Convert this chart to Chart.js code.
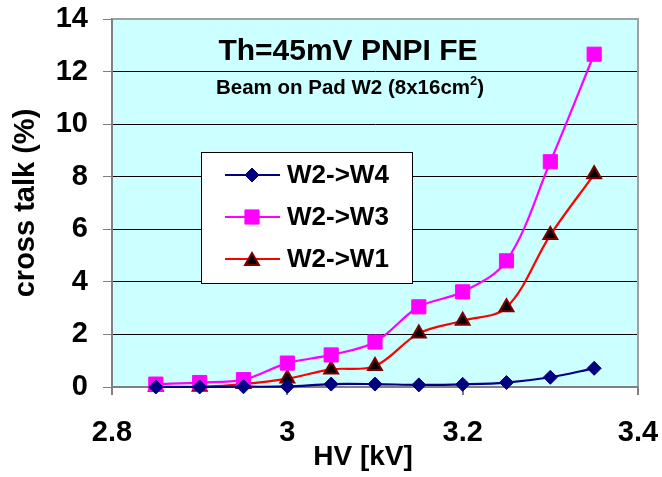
<!DOCTYPE html>
<html>
<head>
<meta charset="utf-8">
<title>Cross talk vs HV</title>
<script src="https://cdn.jsdelivr.net/npm/chart.js@4/dist/chart.umd.min.js"></script>
<style>
  html, body { margin: 0; padding: 0; background: #ffffff; }
  #wrap { width: 662px; height: 477px; }
</style>
</head>
<body>
<div id="wrap"><canvas id="c" width="662" height="477"></canvas></div>
<script>
// HV settings (kV)
const hvValues = [2.85, 2.9, 2.95, 3.0, 3.05, 3.1, 3.15, 3.2, 3.25, 3.3, 3.35];

// cross talk (%) for each neighbouring pad
const crossW4 = [0.0, 0.0, 0.01, 0.02, 0.11, 0.11, 0.08, 0.1, 0.17, 0.37, 0.71];
const crossW3 = [0.11, 0.17, 0.28, 0.91, 1.22, 1.71, 3.05, 3.62, 4.8, 8.57, 12.66];
const crossW1 = [0.01, 0.01, 0.11, 0.32, 0.67, 0.8, 2.04, 2.52, 3.03, 5.78, 8.09];

const seriesNames = ['W2->W4', 'W2->W3', 'W2->W1'];
const xTickLabels = ['2.8', '3', '3.2', '3.4'];
const yTickLabels = ['0', '2', '4', '6', '8', '10', '12', '14'];

const titleText = 'Th=45mV PNPI FE';
const subtitleText = 'Beam on Pad W2 (8x16cm';
const subtitleSup = '2';
const xTitle = 'HV [kV]';
const yTitle = 'cross talk (%)';

const FONT = '"Liberation Sans", Arial, Helvetica, sans-serif';

function toPoints(ys) {
  return hvValues.map((x, i) => ({ x: x, y: ys[i] }));
}

// fixed axis box sizes; the outer layout padding alone sets the plot edges
function fixBox(size) {
  return function (s) {
    if (s.isHorizontal()) s.height = size; else s.width = size;
    s.paddingTop = 0;
    s.paddingBottom = 0;
    s.paddingLeft = 0;
    s.paddingRight = 0;
  };
}

// cyan plot background and grey frame
const plotFrame = {
  id: 'plotFrame',
  beforeDraw(chart) {
    const { ctx, chartArea: a } = chart;
    ctx.save();
    ctx.fillStyle = '#ffffff';
    ctx.fillRect(0, 0, chart.width, chart.height);
    ctx.fillStyle = '#ccffff';
    ctx.fillRect(a.left, a.top, a.right - a.left, a.bottom - a.top);
    ctx.restore();
  },
  beforeDatasetsDraw(chart) {
    const { ctx, chartArea: a } = chart;
    ctx.save();
    ctx.strokeStyle = '#a0a0a0';
    ctx.lineWidth = 2;
    ctx.beginPath();
    ctx.moveTo(a.left, a.top);
    ctx.lineTo(a.right, a.top);
    ctx.lineTo(a.right, a.bottom);
    ctx.stroke();
    ctx.strokeStyle = '#808080';
    ctx.beginPath();
    ctx.moveTo(a.left, a.top);
    ctx.lineTo(a.left, a.bottom);
    ctx.lineTo(a.right, a.bottom);
    ctx.stroke();
    ctx.restore();
  }
};

// chart titles inside the plot area and the HV axis title below it
const innerTitles = {
  id: 'innerTitles',
  afterDraw(chart) {
    const { ctx, chartArea: a } = chart;
    ctx.save();
    ctx.fillStyle = '#000000';
    ctx.textAlign = 'center';
    ctx.textBaseline = 'middle';
    ctx.font = 'bold 30px ' + FONT;
    const cx = a.left + 236;
    ctx.fillText(titleText, cx, a.top + 33);

    ctx.font = 'bold 20.5px ' + FONT;
    const mainW = ctx.measureText(subtitleText).width;
    ctx.font = 'bold 13px ' + FONT;
    const supW = ctx.measureText(subtitleSup).width;
    ctx.font = 'bold 20.5px ' + FONT;
    const closeW = ctx.measureText(')').width;
    const total = mainW + supW + closeW;
    let x = cx + 2 - total / 2;
    const y = a.top + 69;
    ctx.textAlign = 'left';
    ctx.fillText(subtitleText, x, y);
    x += mainW;
    ctx.font = 'bold 13px ' + FONT;
    ctx.fillText(subtitleSup, x, y - 7);
    x += supW;
    ctx.font = 'bold 20.5px ' + FONT;
    ctx.fillText(')', x, y);

    ctx.font = 'bold 28px ' + FONT;
    ctx.textAlign = 'center';
    ctx.fillText(xTitle, (a.left + a.right) / 2 - 12, a.bottom + 70);
    ctx.restore();
  }
};

// boxed legend placed inside the plot area
const boxLegend = {
  id: 'boxLegend',
  afterDatasetsDraw(chart) {
    const { ctx, chartArea: a } = chart;
    const left = a.left + 89, top = a.top + 133, w = 211, h = 131;
    ctx.save();
    ctx.fillStyle = '#ffffff';
    ctx.fillRect(left, top, w, h);
    ctx.strokeStyle = '#000000';
    ctx.lineWidth = 1;
    ctx.strokeRect(left + 0.5, top + 0.5, w, h);
    chart.data.datasets.forEach((ds, i) => {
      const y = top + 23 + i * 42;
      ctx.strokeStyle = ds.borderColor;
      ctx.lineWidth = ds.borderWidth;
      ctx.beginPath();
      ctx.moveTo(left + 24, y);
      ctx.lineTo(left + 79, y);
      ctx.stroke();
      ctx.fillStyle = ds.pointBackgroundColor;
      ctx.strokeStyle = ds.pointBorderColor;
      ctx.lineWidth = ds.pointBorderWidth;
      Chart.helpers.drawPoint(ctx, {
        pointStyle: ds.pointStyle,
        radius: ds.pointRadius,
        rotation: 0,
        borderWidth: ds.pointBorderWidth
      }, left + 51, ds.pointStyle === 'triangle' ? y + 2 : y);
      ctx.fillStyle = '#000000';
      ctx.font = 'bold 26px ' + FONT;
      ctx.textAlign = 'left';
      ctx.textBaseline = 'middle';
      ctx.fillText(ds.label, left + 86, y + 1);
    });
    ctx.restore();
  }
};

new Chart(document.getElementById('c'), {
  type: 'line',
  data: {
    datasets: [
      {
        label: seriesNames[0],
        data: toPoints(crossW4),
        borderColor: '#000080',
        backgroundColor: '#000080',
        borderWidth: 2.2,
        pointStyle: 'rectRot',
        pointRadius: 7,
        pointBackgroundColor: '#000080',
        pointBorderColor: '#000080',
        pointBorderWidth: 1,
        tension: 0.35,
        clip: false
      },
      {
        label: seriesNames[1],
        data: toPoints(crossW3),
        borderColor: '#ff00ff',
        backgroundColor: '#ff00ff',
        borderWidth: 2.2,
        pointStyle: 'rect',
        pointRadius: 10,
        pointBackgroundColor: '#ff00ff',
        pointBorderColor: '#ff00ff',
        pointBorderWidth: 1,
        tension: 0.35,
        clip: false
      },
      {
        label: seriesNames[2],
        data: toPoints(crossW1),
        borderColor: '#ff0000',
        backgroundColor: '#ff0000',
        borderWidth: 2.2,
        pointStyle: 'triangle',
        pointRadius: 8,
        pointBackgroundColor: '#000000',
        pointBorderColor: '#800000',
        pointBorderWidth: 2,
        tension: 0.35,
        clip: false
      }
    ]
  },
  options: {
    responsive: false,
    devicePixelRatio: 1,
    animation: false,
    layout: { padding: { top: 19, right: 24, bottom: 0, left: 0 } },
    plugins: {
      legend: { display: false },
      tooltip: { enabled: false },
      title: { display: false }
    },
    scales: {
      x: {
        type: 'linear',
        min: 2.8,
        max: 3.4,
        afterFit: fixBox(90),
        afterBuildTicks(s) {
          s.ticks = xTickLabels.map(t => ({ value: parseFloat(t) }));
        },
        ticks: {
          stepSize: 0.2,
          padding: 21,
          color: '#000000',
          font: { family: FONT, size: 29, weight: 'bold' },
          maxRotation: 0,
          callback: (v, i) => xTickLabels[i]
        },
        grid: {
          drawOnChartArea: false,
          drawTicks: true,
          tickLength: 8,
          tickColor: '#808080',
          lineWidth: 2
        },
        border: { display: true, color: '#808080', width: 2 },
        title: { display: false }
      },
      y: {
        type: 'linear',
        min: 0,
        max: 14,
        afterFit: fixBox(112),
        afterBuildTicks(s) {
          s.ticks = yTickLabels.map(t => ({ value: parseFloat(t) }));
        },
        ticks: {
          stepSize: 2,
          padding: 15,
          color: '#000000',
          font: { family: FONT, size: 29, weight: 'bold' },
          callback: (v, i) => yTickLabels[i]
        },
        grid: {
          color: '#000000',
          lineWidth: 1,
          drawTicks: true,
          tickLength: 9,
          tickColor: '#808080'
        },
        border: { display: true, color: '#808080', width: 2 },
        title: {
          display: true,
          text: yTitle,
          color: '#000000',
          font: { family: FONT, size: 29, weight: 'bold' },
          padding: { top: 9, bottom: 0 }
        }
      }
    }
  },
  plugins: [plotFrame, boxLegend, innerTitles]
});
</script>
</body>
</html>
